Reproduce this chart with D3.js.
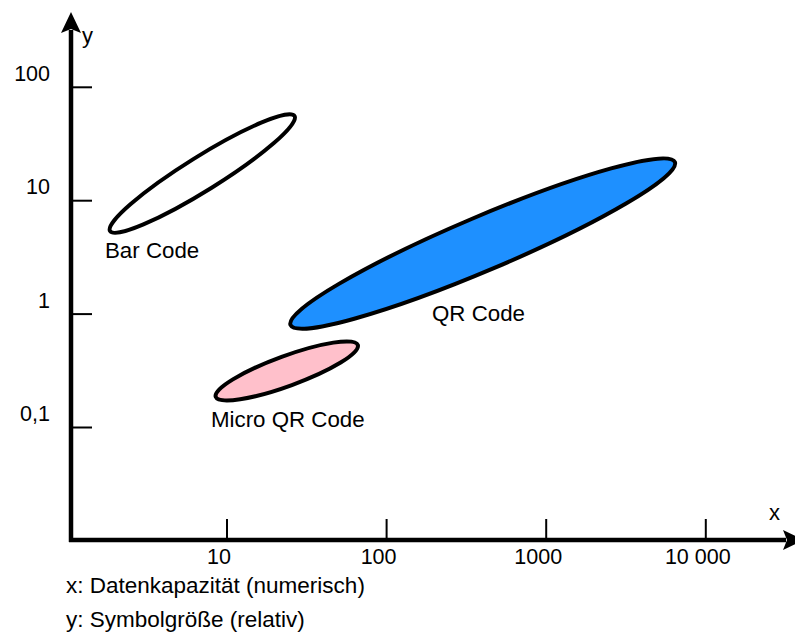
<!DOCTYPE html>
<html>
<head>
<meta charset="utf-8">
<script src="https://cdn.jsdelivr.net/npm/d3@7"></script>
<style>
  html, body { margin: 0; padding: 0; background: #fff; }
  svg { display: block; }
  text { font-family: "Liberation Sans", Arial, sans-serif; fill: #000; }
</style>
</head>
<body>
<svg id="chart" width="795" height="635"></svg>
<script>
// data
var codes = ["Bar Code", "QR Code", "Micro QR Code"];
// major axis ends, in data units: [x, y] at lower-left and upper-right
var lowEnds = [[1.85, 5.4], [25, 0.80], [8.5, 0.186]];
var highEnds = [[26.5, 55.8], [6400, 21.9], [66, 0.534]];
var xTicks = [10, 100, 1000, 10000];
var xTickLabels = ["10", "100", "1000", "10 000"];
var yTicks = [0.1, 1, 10, 100];
var yTickLabels = ["0,1", "1", "10", "100"];
var notes = ["x: Datenkapazität (numerisch)", "y: Symbolgröße (relativ)"];

// styles
var fills = { "Bar Code": "#ffffff", "QR Code": "#1e90ff", "Micro QR Code": "#ffc0cb" };
var halfWidth = { "Bar Code": 17, "QR Code": 27, "Micro QR Code": 15 };
var labelPos = { "Bar Code": [105, 258], "QR Code": [432, 321], "Micro QR Code": [211, 427] };

var svg = d3.select("#chart");
var originX = 71, originY = 540;

var x = d3.scaleLog().domain([10, 10000]).range([227, 705.8]);
var y = d3.scaleLog().domain([0.1, 100]).range([427.5, 87.3]);

// regions
var g = svg.append("g").attr("class", "regions");
codes.forEach(function(name, i) {
    var x1 = x(lowEnds[i][0]), y1 = y(lowEnds[i][1]);
    var x2 = x(highEnds[i][0]), y2 = y(highEnds[i][1]);
    var cx = (x1 + x2) / 2, cy = (y1 + y2) / 2;
    var a = Math.sqrt((x2 - x1) * (x2 - x1) + (y2 - y1) * (y2 - y1)) / 2;
    var ang = Math.atan2(y2 - y1, x2 - x1) * 180 / Math.PI;
    g.append("ellipse")
        .attr("cx", 0).attr("cy", 0)
        .attr("rx", a).attr("ry", halfWidth[name])
        .attr("transform", "translate(" + cx + "," + cy + ") rotate(" + ang + ")")
        .attr("fill", fills[name])
        .attr("stroke", "#000").attr("stroke-width", 4);
    g.append("text")
        .attr("x", labelPos[name][0]).attr("y", labelPos[name][1])
        .attr("font-size", 22.3)
        .text(name);
});

// axes
var ax = svg.append("g").attr("class", "axes");
ax.append("line")
    .attr("x1", originX).attr("y1", originY + 2)
    .attr("x2", originX).attr("y2", 30)
    .attr("stroke", "#000").attr("stroke-width", 4.5);
ax.append("line")
    .attr("x1", originX - 2).attr("y1", originY)
    .attr("x2", 786).attr("y2", originY)
    .attr("stroke", "#000").attr("stroke-width", 4.5);
// arrow heads
ax.append("path")
    .attr("d", "M" + originX + ",12 L" + (originX + 10) + ",33 L" + originX + ",29 L" + (originX - 10) + ",33 Z")
    .attr("fill", "#000");
ax.append("path")
    .attr("d", "M804," + originY + " L783," + (originY - 10) + " L787," + originY + " L783," + (originY + 10) + " Z")
    .attr("fill", "#000");

ax.selectAll(".xtick").data(xTicks).enter().append("line")
    .attr("class", "xtick")
    .attr("x1", function(d) { return x(d); }).attr("x2", function(d) { return x(d); })
    .attr("y1", originY - 21).attr("y2", originY)
    .attr("stroke", "#000").attr("stroke-width", 2);
ax.selectAll(".xlabel").data(xTicks).enter().append("text")
    .attr("class", "xlabel")
    .attr("x", function(d) { return x(d) - 8; })
    .attr("y", 564)
    .attr("text-anchor", "middle")
    .attr("font-size", 21.5)
    .text(function(d, i) { return xTickLabels[i]; });

ax.selectAll(".ytick").data(yTicks).enter().append("line")
    .attr("class", "ytick")
    .attr("x1", originX).attr("x2", 92)
    .attr("y1", function(d) { return y(d); }).attr("y2", function(d) { return y(d); })
    .attr("stroke", "#000").attr("stroke-width", 2);
ax.selectAll(".ylabel").data(yTicks).enter().append("text")
    .attr("class", "ylabel")
    .attr("x", 50)
    .attr("y", function(d) { return y(d) - 6.5; })
    .attr("text-anchor", "end")
    .attr("font-size", 21.5)
    .text(function(d, i) { return yTickLabels[i]; });

ax.append("text").attr("x", 82).attr("y", 43).attr("font-size", 22).text("y");
ax.append("text").attr("x", 769).attr("y", 520).attr("font-size", 22).text("x");

// notes under the chart
svg.selectAll(".note").data(notes).enter().append("text")
    .attr("class", "note")
    .attr("x", 66)
    .attr("y", function(d, i) { return 593 + i * 34; })
    .attr("font-size", 22.5)
    .text(function(d) { return d; });
</script>
</body>
</html>
